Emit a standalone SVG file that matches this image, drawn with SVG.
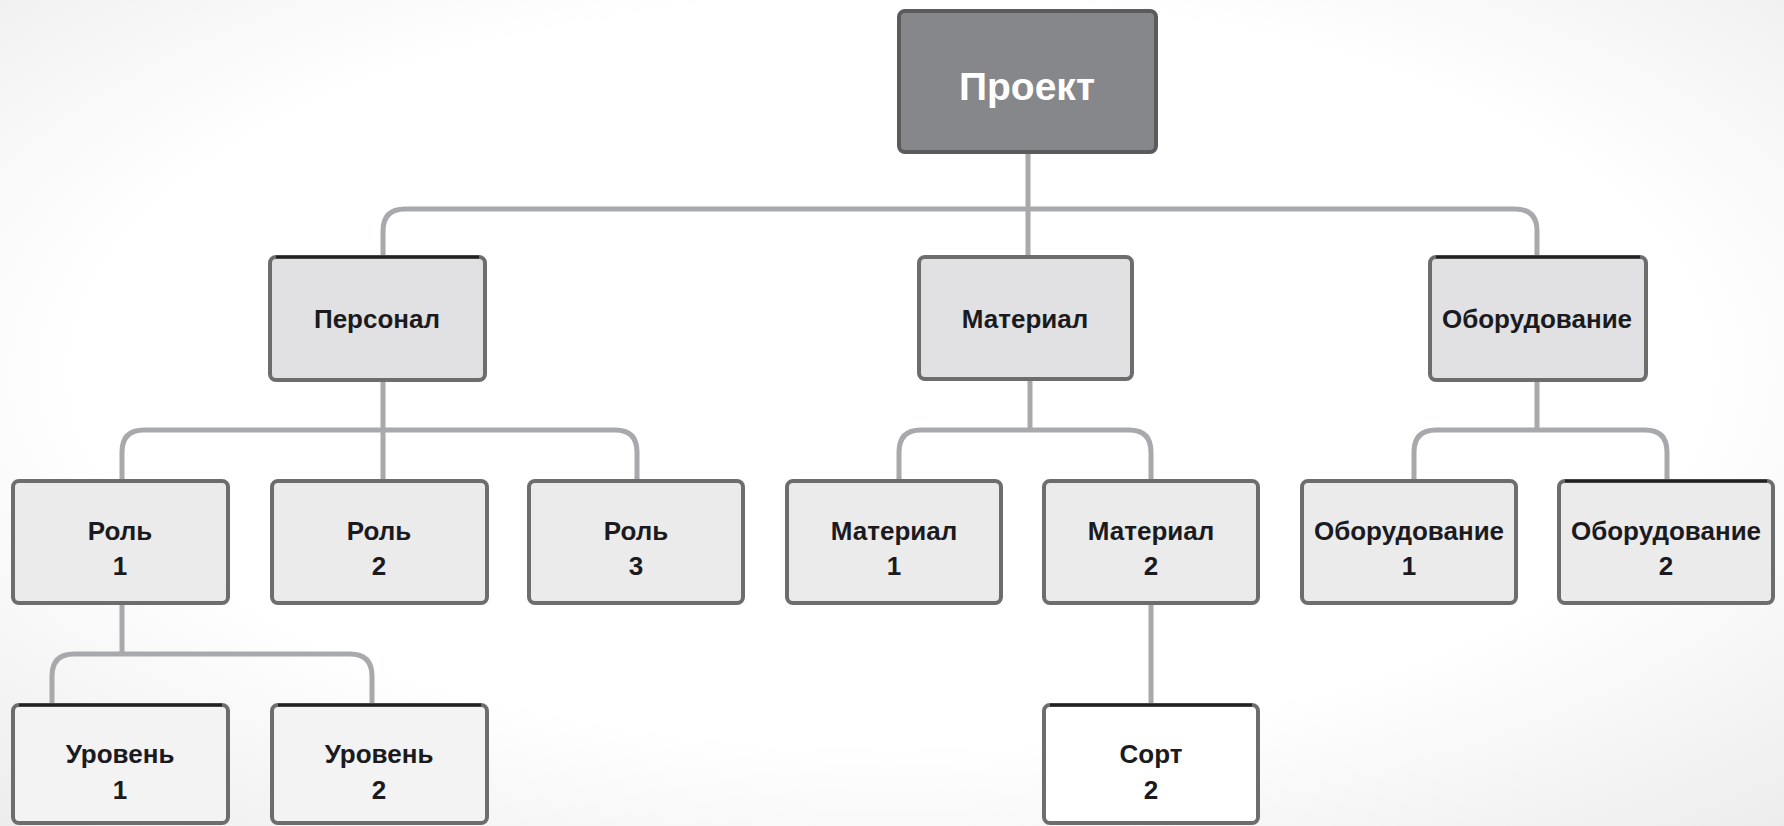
<svg xmlns="http://www.w3.org/2000/svg" width="1784" height="826" viewBox="0 0 1784 826">
<defs>
<radialGradient id="bg" cx="0.5" cy="0.45" r="0.75">
<stop offset="0.6" stop-color="#ffffff"/>
<stop offset="1" stop-color="#ececec"/>
</radialGradient>
<style>
.conn{fill:none;stroke:#a8a9ac;stroke-width:5;stroke-linejoin:round}
.box{stroke:#6d6d6e;stroke-width:4}
.l1{fill:#e1e1e3}
.l2{fill:#ebebeb}
.l3{fill:#f3f3f3}
.l4{fill:#ffffff}
.top{stroke:#222;stroke-width:3;fill:none}
.t{font-family:"Liberation Sans",Arial,sans-serif;font-size:26px;font-weight:bold;fill:#1b1b1f;text-anchor:middle}
.tr{font-family:"Liberation Sans",Arial,sans-serif;font-size:39px;font-weight:bold;fill:#ffffff;text-anchor:middle}
</style>
</defs>
<rect width="1784" height="826" fill="url(#bg)"/>
<g id="connectors">
<path class="conn" d="M1028,153 V256"/>
<path class="conn" d="M383,256 V231 Q383,209 405,209 H1515 Q1537,209 1537,231 V256"/>
<path class="conn" d="M383,380 V480"/>
<path class="conn" d="M122,480 V452 Q122,430 144,430 H615 Q637,430 637,452 V480"/>
<path class="conn" d="M1030,379 V430"/>
<path class="conn" d="M899,480 V452 Q899,430 921,430 H1129 Q1151,430 1151,452 V480"/>
<path class="conn" d="M1537,380 V430"/>
<path class="conn" d="M1414,480 V452 Q1414,430 1436,430 H1645 Q1667,430 1667,452 V480"/>
<path class="conn" d="M122,603 V654"/>
<path class="conn" d="M52,704 V676 Q52,654 74,654 H350 Q372,654 372,676 V704"/>
<path class="conn" d="M1151,603 V704"/>
</g>
<g id="n-proekt">
<rect x="899" y="11" width="257" height="141" rx="6" fill="#86878b" stroke="#5b5b5d" stroke-width="4"/>
<text class="tr" x="1027" y="100">Проект</text>
</g>
<g id="n-personal">
<rect class="box l1" x="270" y="257" width="215" height="123" rx="6"/>
<line class="top" x1="276" y1="257" x2="479" y2="257"/>
<text class="t" x="377" y="328">Персонал</text>
</g>
<g id="n-material">
<rect class="box l1" x="919" y="257" width="213" height="122" rx="6"/>
<text class="t" x="1025" y="328">Материал</text>
</g>
<g id="n-oborud">
<rect class="box l1" x="1430" y="257" width="216" height="123" rx="6"/>
<line class="top" x1="1436" y1="257" x2="1640" y2="257"/>
<text class="t" x="1537" y="328">Оборудование</text>
</g>
<g id="n-rol1">
<rect class="box l2" x="13" y="481" width="215" height="122" rx="6"/>
<text class="t" x="120" y="540">Роль</text>
<text class="t" x="120" y="575">1</text>
</g>
<g id="n-rol2">
<rect class="box l2" x="272" y="481" width="215" height="122" rx="6"/>
<text class="t" x="379" y="540">Роль</text>
<text class="t" x="379" y="575">2</text>
</g>
<g id="n-rol3">
<rect class="box l2" x="529" y="481" width="214" height="122" rx="6"/>
<text class="t" x="636" y="540">Роль</text>
<text class="t" x="636" y="575">3</text>
</g>
<g id="n-mat1">
<rect class="box l2" x="787" y="481" width="214" height="122" rx="6"/>
<text class="t" x="894" y="540">Материал</text>
<text class="t" x="894" y="575">1</text>
</g>
<g id="n-mat2">
<rect class="box l2" x="1044" y="481" width="214" height="122" rx="6"/>
<text class="t" x="1151" y="540">Материал</text>
<text class="t" x="1151" y="575">2</text>
</g>
<g id="n-ob1">
<rect class="box l2" x="1302" y="481" width="214" height="122" rx="6"/>
<text class="t" x="1409" y="540">Оборудование</text>
<text class="t" x="1409" y="575">1</text>
</g>
<g id="n-ob2">
<rect class="box l2" x="1559" y="481" width="214" height="122" rx="6"/>
<line class="top" x1="1565" y1="481" x2="1767" y2="481"/>
<text class="t" x="1666" y="540">Оборудование</text>
<text class="t" x="1666" y="575">2</text>
</g>
<g id="n-ur1">
<rect class="box l3" x="13" y="705" width="215" height="118" rx="6"/>
<line class="top" x1="19" y1="705" x2="222" y2="705"/>
<text class="t" x="120" y="763">Уровень</text>
<text class="t" x="120" y="799">1</text>
</g>
<g id="n-ur2">
<rect class="box l3" x="272" y="705" width="215" height="118" rx="6"/>
<line class="top" x1="278" y1="705" x2="481" y2="705"/>
<text class="t" x="379" y="763">Уровень</text>
<text class="t" x="379" y="799">2</text>
</g>
<g id="n-sort">
<rect class="box l4" x="1044" y="705" width="214" height="118" rx="6"/>
<line class="top" x1="1050" y1="705" x2="1252" y2="705"/>
<text class="t" x="1151" y="763">Сорт</text>
<text class="t" x="1151" y="799">2</text>
</g>
</svg>
